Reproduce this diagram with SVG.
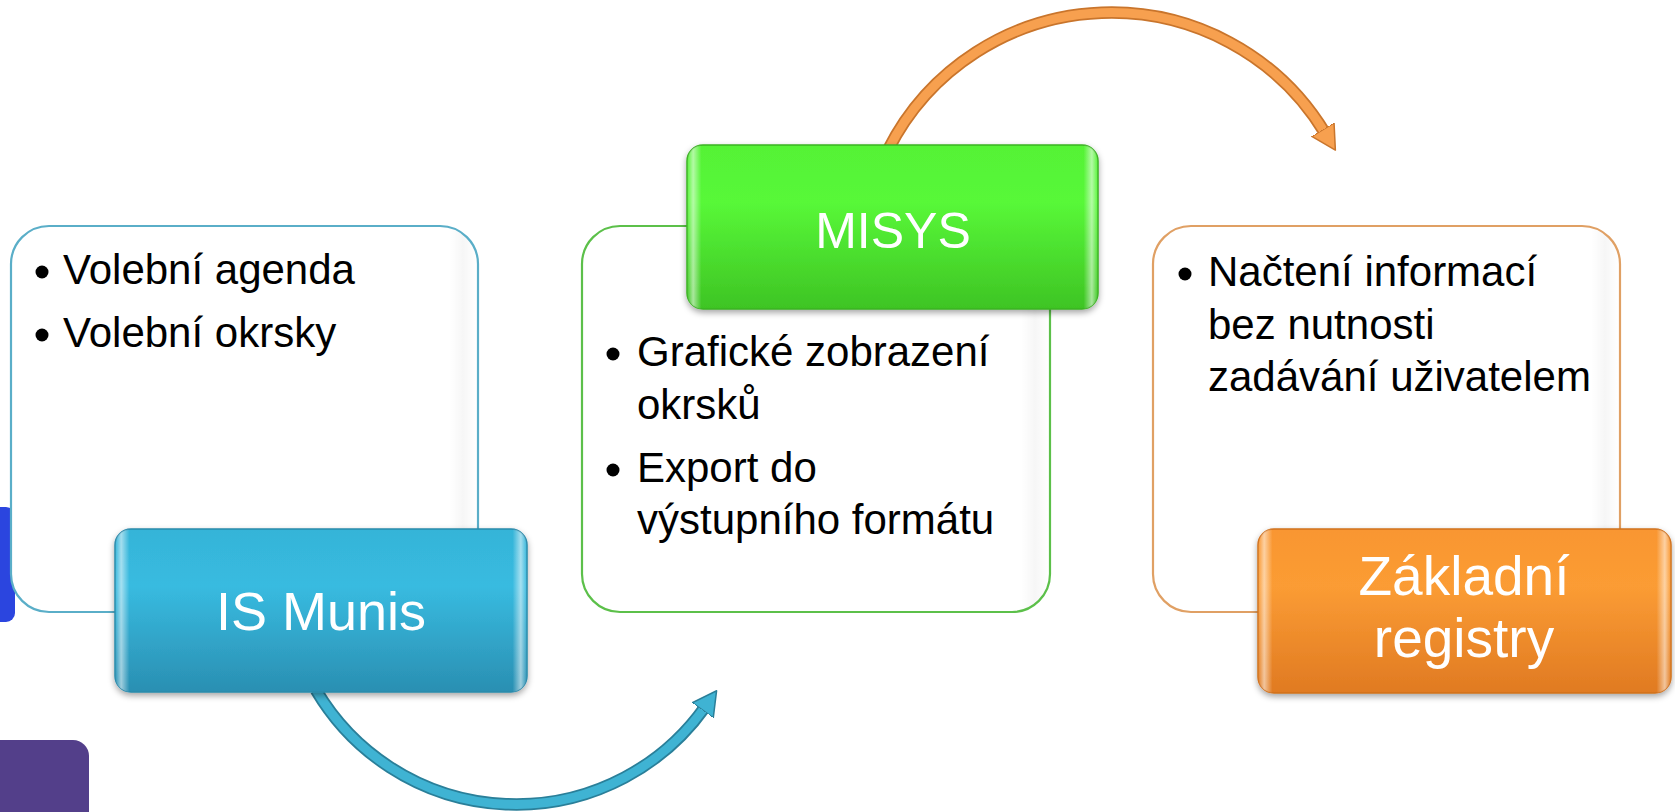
<svg xmlns="http://www.w3.org/2000/svg" width="1675" height="812" viewBox="0 0 1675 812">
  <style>
    .panel { fill: #ffffff; stroke-width: 2.2; }
    .item { font-family: "Liberation Sans", Arial, sans-serif; font-size: 42px; fill: #000000; }
    .label { font-family: "Liberation Sans", Arial, sans-serif; fill: #ffffff; text-anchor: middle; }
    .bullet { fill: #000000; }
  </style>
  <defs>
    <linearGradient id="gBlue" x1="0" y1="0" x2="0" y2="1">
      <stop offset="0" stop-color="#35b4d8"/>
      <stop offset="0.35" stop-color="#38bbe0"/>
      <stop offset="1" stop-color="#2a8fb2"/>
    </linearGradient>
    <linearGradient id="gGreen" x1="0" y1="0" x2="0" y2="1">
      <stop offset="0" stop-color="#55f236"/>
      <stop offset="0.35" stop-color="#58f838"/>
      <stop offset="1" stop-color="#3ec424"/>
    </linearGradient>
    <linearGradient id="gOrange" x1="0" y1="0" x2="0" y2="1">
      <stop offset="0" stop-color="#f99630"/>
      <stop offset="0.35" stop-color="#fb9c34"/>
      <stop offset="1" stop-color="#e07a22"/>
    </linearGradient>
    <linearGradient id="gloss" x1="0" y1="0" x2="1" y2="0">
      <stop offset="0" stop-color="#ffffff" stop-opacity="0"/>
      <stop offset="0.015" stop-color="#ffffff" stop-opacity="0.55"/>
      <stop offset="0.035" stop-color="#ffffff" stop-opacity="0"/>
      <stop offset="0.965" stop-color="#ffffff" stop-opacity="0"/>
      <stop offset="0.985" stop-color="#ffffff" stop-opacity="0.55"/>
      <stop offset="1" stop-color="#ffffff" stop-opacity="0"/>
    </linearGradient>
    <linearGradient id="pshade" x1="0" y1="0" x2="1" y2="0">
      <stop offset="0" stop-color="#000000" stop-opacity="0"/>
      <stop offset="0.94" stop-color="#000000" stop-opacity="0"/>
      <stop offset="0.97" stop-color="#000000" stop-opacity="0.035"/>
      <stop offset="1" stop-color="#000000" stop-opacity="0"/>
    </linearGradient>
    <filter id="shadow" x="-10%" y="-10%" width="120%" height="130%">
      <feDropShadow dx="0" dy="3" stdDeviation="3" flood-color="#000000" flood-opacity="0.35"/>
    </filter>
    <marker id="headBlue" markerUnits="userSpaceOnUse" viewBox="0 0 26 28" markerWidth="26" markerHeight="28" refX="4" refY="14" orient="auto">
      <path d="M0,1 L24,14 L0,27 Z" fill="#3fb3d3" stroke="#2a7f99" stroke-width="1.5" stroke-linejoin="round"/>
    </marker>
    <marker id="headOrange" markerUnits="userSpaceOnUse" viewBox="0 0 26 28" markerWidth="26" markerHeight="28" refX="4" refY="14" orient="auto">
      <path d="M0,1 L24,14 L0,27 Z" fill="#f7a04f" stroke="#c9752c" stroke-width="1.5" stroke-linejoin="round"/>
    </marker>
  </defs>

  <rect x="0" y="0" width="1675" height="812" fill="#ffffff"/>

  <!-- partial shapes at left edge -->
  <g id="edge-shapes">
    <rect x="-20" y="507" width="35" height="115" rx="9" fill="#2b45df"/>
    <rect x="-20" y="740" width="109" height="90" rx="16" fill="#533f8a"/>
  </g>

  <g id="connectors">
    <path d="M316,690 A232,232 0 0 0 705,707" fill="none" stroke="#2a7f99" stroke-width="12.5"/>
    <path d="M316,690 A232,232 0 0 0 705,707" fill="none" stroke="#3fb3d3" stroke-width="9" marker-end="url(#headBlue)"/>
    <path d="M888,150 A250,250 0 0 1 1325,133" fill="none" stroke="#c9752c" stroke-width="12.5"/>
    <path d="M888,150 A250,250 0 0 1 1325,133" fill="none" stroke="#f7a04f" stroke-width="9" marker-end="url(#headOrange)"/>
  </g>

  <g id="node-is-munis">
    <rect class="panel" x="11" y="226" width="467" height="386" rx="38" fill="none" stroke="#5aaec8"/>
    <rect x="12" y="227" width="465" height="384" rx="37" fill="url(#pshade)"/>
    <circle class="bullet" cx="42" cy="272" r="6.5"/>
    <text class="item" x="63" y="284">Volební agenda</text>
    <circle class="bullet" cx="42" cy="335" r="6.5"/>
    <text class="item" x="63" y="347">Volební okrsky</text>
    <g filter="url(#shadow)">
      <rect x="115" y="529" width="412" height="163" rx="16" fill="url(#gBlue)" stroke="#2a8aab" stroke-width="1.5"/>
    </g>
    <rect x="115" y="529" width="412" height="163" rx="16" fill="url(#gloss)"/>
    <text class="label" x="321" y="630" font-size="54">IS Munis</text>
  </g>

  <g id="node-misys">
    <rect class="panel" x="582" y="226" width="468" height="386" rx="38" fill="none" stroke="#5cc04a"/>
    <rect x="583" y="227" width="466" height="384" rx="37" fill="url(#pshade)"/>
    <g filter="url(#shadow)">
      <rect x="687" y="145" width="411" height="164" rx="16" fill="url(#gGreen)" stroke="#3bb223" stroke-width="1.5"/>
    </g>
    <rect x="687" y="145" width="411" height="164" rx="16" fill="url(#gloss)"/>
    <text class="label" x="893" y="248" font-size="50">MISYS</text>
    <circle class="bullet" cx="613" cy="354" r="6.5"/>
    <text class="item" x="637" y="366">Grafické zobrazení</text>
    <text class="item" x="637" y="419">okrsků</text>
    <circle class="bullet" cx="613" cy="470" r="6.5"/>
    <text class="item" x="637" y="482">Export do</text>
    <text class="item" x="637" y="534">výstupního formátu</text>
  </g>

  <g id="node-zakladni-registry">
    <rect class="panel" x="1153" y="226" width="467" height="386" rx="38" fill="none" stroke="#e0a064"/>
    <rect x="1154" y="227" width="465" height="384" rx="37" fill="url(#pshade)"/>
    <circle class="bullet" cx="1185" cy="274" r="6.5"/>
    <text class="item" x="1208" y="286">Načtení informací</text>
    <text class="item" x="1208" y="339">bez nutnosti</text>
    <text class="item" x="1208" y="391">zadávání uživatelem</text>
    <g filter="url(#shadow)">
      <rect x="1258" y="529" width="413" height="164" rx="16" fill="url(#gOrange)" stroke="#d0711e" stroke-width="1.5"/>
    </g>
    <rect x="1258" y="529" width="413" height="164" rx="16" fill="url(#gloss)"/>
    <text class="label" x="1464" y="595" font-size="55">Základní</text>
    <text class="label" x="1464" y="657" font-size="55">registry</text>
  </g>
</svg>
